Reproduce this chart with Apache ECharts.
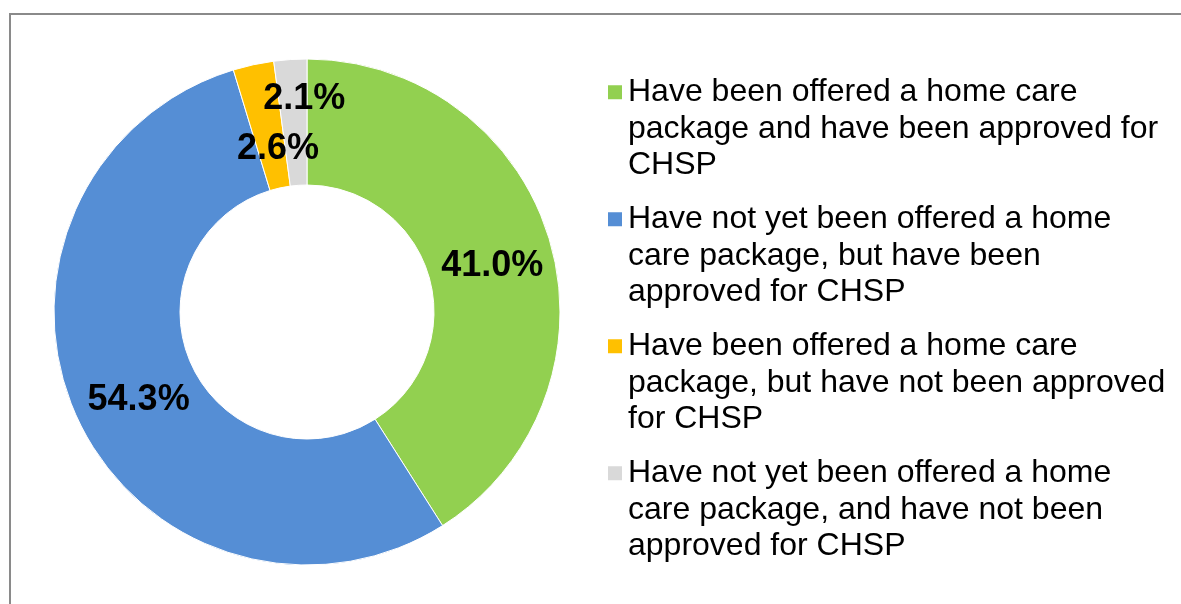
<!DOCTYPE html>
<html>
<head>
<meta charset="utf-8">
<script src="https://cdn.jsdelivr.net/npm/echarts@6/dist/echarts.min.js"></script>
<style>
html,body{margin:0;padding:0;background:#fff;}
#chart{width:1181px;height:604px;}
</style>
</head>
<body>
<div id="chart"></div>
<script>
var categories = [
  'Have been offered a home care package and have been approved for CHSP',
  'Have not yet been offered a home care package, but have been approved for CHSP',
  'Have been offered a home care package, but have not been approved for CHSP',
  'Have not yet been offered a home care package, and have not been approved for CHSP'
];
var legendLines = [
  ['Have been offered a home care', 'package and have been approved for', 'CHSP'],
  ['Have not yet been offered a home', 'care package, but have been', 'approved for CHSP'],
  ['Have been offered a home care', 'package, but have not been approved', 'for CHSP'],
  ['Have not yet been offered a home', 'care package, and have not been', 'approved for CHSP']
];
var values = [41.0, 54.3, 2.6, 2.1];
var colors = ['#92D050', '#558ED5', '#FFC000', '#D9D9D9'];

var labelShift = {0: [0, 8], 1: [7, 8], 2: [12, 26], 3: [10, -20]};

var chart = echarts.init(document.getElementById('chart'), null, {renderer: 'canvas'});
var option = {
  animation: false,
  backgroundColor: '#fff',
  graphic: [{
    type: 'rect',
    shape: {x: 10, y: 14, width: 1300, height: 800},
    style: {fill: 'none', stroke: '#8a8a8a', lineWidth: 2},
    silent: true,
    z: -1
  }],
  legend: {
    orient: 'vertical',
    left: 606,
    top: 1,
    padding: 0,
    itemGap: -55.5,
    itemWidth: 16,
    itemHeight: 16,
    icon: 'rect',
    selectedMode: false,
    data: categories,
    formatter: function (name) {
      var i = categories.indexOf(name);
      return '\n\n' + legendLines[i].join('\n');
    },
    textStyle: {
      fontFamily: 'Liberation Sans, Arial, sans-serif',
      fontSize: 32,
      lineHeight: 36.5,
      color: '#000'
    }
  },
  series: [{
    type: 'pie',
    center: [307, 312],
    radius: [127, 253],
    startAngle: 90,
    clockwise: true,
    avoidLabelOverlap: false,
    itemStyle: {borderColor: '#fff', borderWidth: 1},
    label: {
      show: true,
      position: 'inside',
      formatter: function (p) { return p.value.toFixed(1) + '%'; },
      fontFamily: 'Liberation Sans, Arial, sans-serif',
      fontWeight: 'bold',
      fontSize: 36,
      color: '#000'
    },
    labelLine: {show: false},
    emphasis: {disabled: true},
    labelLayout: function (params) {
      var s = labelShift[params.dataIndex];
      if (s) { return {dx: s[0], dy: s[1]}; }
      return {};
    },
    data: categories.map(function (c, i) {
      return {name: c, value: values[i], itemStyle: {color: colors[i]}};
    })
  }]
};
chart.setOption(option);
</script>
</body>
</html>
